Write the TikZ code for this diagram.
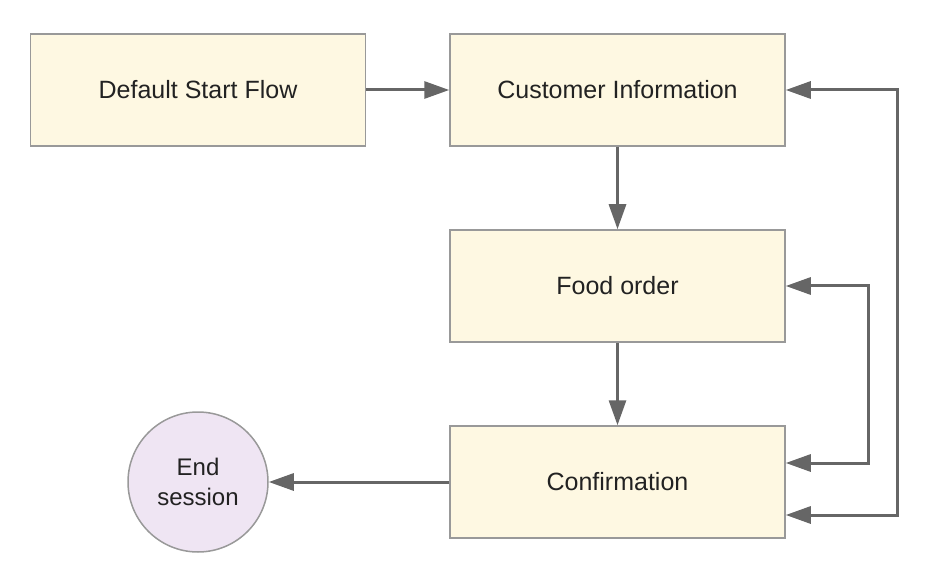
\documentclass[tikz,border=0pt]{standalone}
\usepackage{fontspec}
\setmainfont{Liberation Sans}
\usetikzlibrary{arrows.meta}
\definecolor{boxfill}{HTML}{FEF8E2}
\definecolor{boxline}{HTML}{999999}
\definecolor{endfill}{HTML}{EFE5F3}
\definecolor{flowline}{HTML}{666666}
\definecolor{labeltext}{HTML}{222222}
\begin{document}
\begin{tikzpicture}[x=1pt, y=-1pt,
    step box/.style ={rectangle, draw=boxline, line width=1.5pt, fill=boxfill,
      minimum width=335pt, minimum height=112pt, inner sep=0pt,
      text=labeltext, font=\fontsize{25}{29}\selectfont},
    end state/.style ={circle, draw=boxline, line width=1.5pt, fill=endfill,
      minimum size=140pt, inner sep=0pt, align=center,
      text=labeltext, font=\fontsize{24}{30}\selectfont},
    flow/.style ={draw=flowline, line width=3pt,
      -{Triangle[length=25pt, width=17pt]}},
    loop/.style ={flow,
      {Triangle[length=25pt, width=17pt]}-{Triangle[length=25pt, width=17pt]}}]
   \useasboundingbox (0,0) rectangle (926,569);
   \node[step box] (start)    at (198,90)    {Default Start Flow};
   \node[step box] (customer) at (617.5,90)  {Customer Information};
   \node[step box] (food)     at (617.5,286) {Food order};
   \node[step box] (confirm)  at (617.5,482) {Confirmation};
   \node[end state] (finish)  at (198,482)   {End\\session};

   \coordinate (inner) at (868,288);
   \coordinate (outer) at (897,90);

   \draw[flow] (start) to (customer);
   \draw[flow] (customer) to (food);
   \draw[flow] (food) to (confirm);
   \draw[flow] (confirm) to (finish);
   \draw[loop] (food.east) -- (food.east -| inner) |- ([yshift=19pt]confirm.east);
   \draw[loop] (customer.east) -- (outer) |- ([yshift=-33pt]confirm.east);

 \end{tikzpicture}
\end{document}
